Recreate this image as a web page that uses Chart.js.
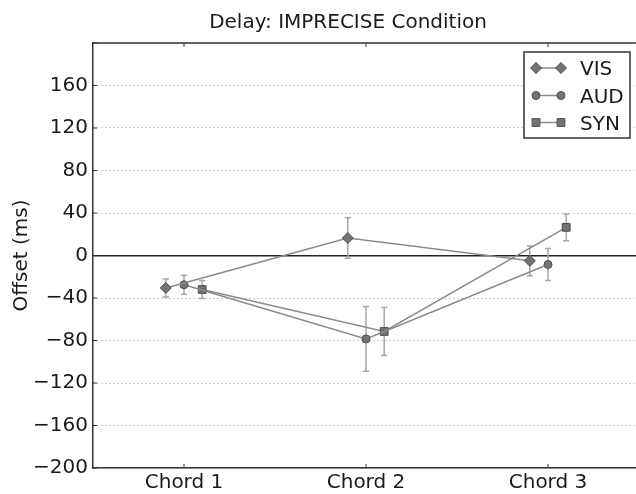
<!DOCTYPE html>
<html>
<head>
<meta charset="utf-8">
<script src="https://cdn.jsdelivr.net/npm/chart.js@4.4.0/dist/chart.umd.min.js"></script>
<style>
  html, body { margin: 0; padding: 0; background: #fff; overflow: hidden; }
  #wrap { width: 660px; height: 494px; }
</style>
</head>
<body>
<div id="wrap"><canvas id="chart" width="660" height="494"></canvas></div>
<script>
const categories = ['Chord 1', 'Chord 2', 'Chord 3'];
const yTickValues = [-200, -160, -120, -80, -40, 0, 40, 80, 120, 160, 200];

const seriesNames = ['VIS', 'AUD', 'SYN'];
const visMean = [-30.5, 16.5, -5];
const visErr = [8.5, 19, 14];
const audMean = [-27.5, -78.5, -8.5];
const audErr = [9, 30.5, 15];
const synMean = [-32, -71.5, 26.5];
const synErr = [8.5, 22.5, 12.5];

// horizontal dodge so the three series don't sit on top of each other
const dodge = [-0.1, 0, 0.1];

const FONT = "'DejaVu Sans', 'Liberation Sans', sans-serif";
const TEXT = '#1a1a1a';
const LINE = '#8a8a8a';
const FILL = '#737373';
const EDGE = '#4d4d4d';
const ERRC = '#a6a6a6';

const styles = [
  { shape: 'rectRot', r: 5.5 },
  { shape: 'circle', r: 4 },
  { shape: 'rect', r: 5.5 }
];

function toPoints(means, k) {
  return means.map((v, i) => ({ x: i + 1 + dodge[k], y: v }));
}

const means = [visMean, audMean, synMean];
const errs = [visErr, audErr, synErr];

const datasets = means.map((m, k) => ({
  label: seriesNames[k],
  data: toPoints(m, k),
  borderColor: LINE,
  borderWidth: 1.5,
  backgroundColor: FILL,
  pointBackgroundColor: FILL,
  pointBorderColor: EDGE,
  pointBorderWidth: 1,
  pointStyle: styles[k].shape,
  pointRadius: styles[k].r,
  pointHoverRadius: styles[k].r,
  tension: 0,
  fill: false
}));

function drawMarker(ctx, shape, x, y, r) {
  ctx.save();
  ctx.fillStyle = FILL;
  ctx.strokeStyle = EDGE;
  ctx.lineWidth = 1;
  ctx.beginPath();
  if (shape === 'circle') {
    ctx.arc(x, y, r, 0, Math.PI * 2);
  } else if (shape === 'rectRot') {
    ctx.moveTo(x + r, y); ctx.lineTo(x, y + r); ctx.lineTo(x - r, y); ctx.lineTo(x, y - r);
    ctx.closePath();
  } else {
    const h = r * Math.SQRT1_2;
    ctx.rect(x - h, y - h, 2 * h, 2 * h);
  }
  ctx.fill();
  ctx.stroke();
  ctx.restore();
}

const errorBars = {
  id: 'errorBars',
  beforeDatasetsDraw(chart) {
    const { ctx, scales: { x, y } } = chart;
    ctx.save();
    ctx.strokeStyle = ERRC;
    ctx.lineWidth = 1.5;
    means.forEach((m, k) => {
      m.forEach((v, i) => {
        const px = x.getPixelForValue(i + 1 + dodge[k]);
        const top = y.getPixelForValue(v + errs[k][i]);
        const bot = y.getPixelForValue(v - errs[k][i]);
        ctx.beginPath();
        ctx.moveTo(px, top); ctx.lineTo(px, bot);
        ctx.moveTo(px - 3, top); ctx.lineTo(px + 3, top);
        ctx.moveTo(px - 3, bot); ctx.lineTo(px + 3, bot);
        ctx.stroke();
      });
    });
    ctx.restore();
  }
};

const frame = {
  id: 'frame',
  afterDraw(chart) {
    const { ctx, chartArea: a, scales: { x, y } } = chart;
    ctx.save();
    ctx.strokeStyle = '#333';
    ctx.lineWidth = 1.5;
    ctx.beginPath();
    ctx.moveTo(a.left, a.top); ctx.lineTo(a.right, a.top);
    ctx.stroke();
    // inward tick marks
    ctx.lineWidth = 1;
    ctx.beginPath();
    yTickValues.forEach(v => {
      const py = y.getPixelForValue(v);
      ctx.moveTo(a.left, py); ctx.lineTo(a.left + 4, py);
    });
    categories.forEach((c, i) => {
      const px = x.getPixelForValue(i + 1);
      ctx.moveTo(px, a.bottom); ctx.lineTo(px, a.bottom - 4);
      ctx.moveTo(px, a.top); ctx.lineTo(px, a.top + 4);
    });
    ctx.stroke();

    // title
    ctx.fillStyle = TEXT;
    ctx.font = '20px ' + FONT;
    ctx.textAlign = 'center';
    ctx.textBaseline = 'alphabetic';
    ctx.fillText('Delay: IMPRECISE Condition', 348, 28);

    // legend
    const lx = 524, ly = 52, lw = 106, lh = 86;
    ctx.fillStyle = '#fff';
    ctx.fillRect(lx, ly, lw, lh);
    ctx.strokeStyle = '#333';
    ctx.lineWidth = 1.5;
    ctx.strokeRect(lx, ly, lw, lh);
    const rowY = [68, 95.5, 122.5];
    seriesNames.forEach((name, k) => {
      const ry = rowY[k];
      ctx.strokeStyle = LINE;
      ctx.lineWidth = 1.5;
      ctx.beginPath();
      ctx.moveTo(536, ry); ctx.lineTo(561, ry);
      ctx.stroke();
      drawMarker(ctx, styles[k].shape, 536, ry, styles[k].r);
      drawMarker(ctx, styles[k].shape, 561, ry, styles[k].r);
      ctx.fillStyle = TEXT;
      ctx.textAlign = 'left';
      ctx.fillText(name, 580, ry + 7);
    });
    ctx.restore();
  }
};

new Chart(document.getElementById('chart'), {
  type: 'line',
  data: { datasets },
  options: {
    responsive: false,
    devicePixelRatio: 1,
    animation: false,
    events: [],
    layout: { padding: { top: 43, right: 21, bottom: 0, left: 0 } },
    plugins: { legend: { display: false }, title: { display: false }, tooltip: { enabled: false } },
    scales: {
      x: {
        type: 'linear',
        min: 0.5,
        max: 3.5,
        afterBuildTicks(scale) { scale.ticks = categories.map((c, i) => ({ value: i + 1 })); },
        afterFit(scale) { scale.height = 26; },
        grid: { display: false },
        border: { display: true, color: '#333', width: 1.5 },
        ticks: {
          color: TEXT,
          font: { family: FONT, size: 20 },
          padding: -5,
          maxRotation: 0,
          autoSkip: false,
          callback: v => categories[Math.round(v) - 1]
        }
      },
      y: {
        type: 'linear',
        min: -200,
        max: 200,
        afterBuildTicks(scale) { scale.ticks = yTickValues.map(v => ({ value: v })); },
        afterFit(scale) { scale.width = 93; },
        grid: {
          drawTicks: false,
          color: c => (c.tick && c.tick.value === 0 ? '#222' : 'rgba(0,0,0,0.4)'),
          lineWidth: c => (c.tick && c.tick.value === 0 ? 1.5 : 1)
        },
        border: {
          display: true,
          color: '#333',
          width: 1.5,
          dash: c => (c.tick && c.tick.value === 0 ? [] : [1, 3])
        },
        title: {
          display: true,
          text: 'Offset (ms)',
          color: TEXT,
          font: { family: FONT, size: 20 },
          padding: { top: 10, bottom: 0 }
        },
        ticks: {
          color: TEXT,
          font: { family: FONT, size: 20 },
          padding: 5,
          callback: v => (v === 200 ? '' : (v < 0 ? '\u2212' + Math.abs(v) : String(v)))
        }
      }
    }
  },
  plugins: [errorBars, frame]
});
</script>
</body>
</html>
